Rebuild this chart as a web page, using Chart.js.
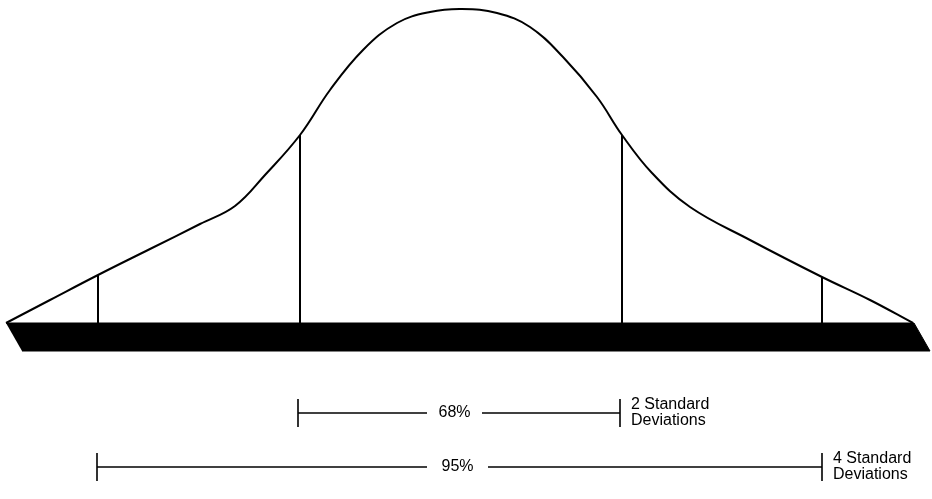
<!DOCTYPE html>
<html>
<head>
<meta charset="utf-8">
<script src="https://cdn.jsdelivr.net/npm/chart.js@4"></script>
<style>
  html, body { margin: 0; padding: 0; background: #fff; }
  #wrap { width: 932px; height: 499px; }
</style>
</head>
<body>
<div id="wrap"><canvas id="grafica" width="932" height="499"></canvas></div>
<script>
// curve: horizontal position, height above the base bar
const curveX = [6, 50, 98, 150, 200, 235, 265, 300, 330, 363, 397, 430, 462, 497, 530, 563, 597, 622, 652, 690, 750, 822, 870, 913];
const curveY = [0, 23, 48, 74, 99, 117, 148, 188, 233, 273, 300, 311, 314, 310, 296, 266, 226, 188, 150, 116, 83, 46, 23, 0];

// vertical lines at 1 and 2 standard deviations
const sdLineX = [98, 300, 622, 822];
const sdLineTop = [48, 188, 188, 46];

// the black base bar (corners)
const barX = [6, 914, 930, 22];
const barY = [0, 0, -28, -28];

// brackets underneath
const bracketLabels = ["68%", "95%"];
const bracketFrom = [298, 97];
const bracketTo = [620, 822];
const bracketLevel = [-90, -144];
const bracketGapFrom = [427, 427];
const bracketGapTo = [482, 488];
const bracketNotes = [["2 Standard", "Deviations"], ["4 Standard", "Deviations"]];

const TICK = 14;
const datasets = [];

// curve
datasets.push({
    data: curveX.map((x, i) => ({ x: x, y: curveY[i] })),
    borderColor: "#000",
    borderWidth: 2,
    tension: 0.4,
    pointRadius: 0,
    fill: false
});

// sd lines
sdLineX.forEach((x, i) => {
    datasets.push({
        data: [{ x: x, y: 0 }, { x: x, y: sdLineTop[i] }],
        borderColor: "#000",
        borderWidth: 2,
        pointRadius: 0,
        fill: false
    });
});

// base bar
datasets.push({
    data: barX.map((x, i) => ({ x: x, y: barY[i] })),
    borderColor: "#000",
    backgroundColor: "#000",
    borderWidth: 1,
    pointRadius: 0,
    tension: 0,
    fill: "shape"
});

// brackets: two horizontal pieces plus end ticks
bracketLabels.forEach((lab, i) => {
    const y = bracketLevel[i];
    const segs = [
        [{ x: bracketFrom[i], y: y }, { x: bracketGapFrom[i], y: y }],
        [{ x: bracketGapTo[i], y: y }, { x: bracketTo[i], y: y }],
        [{ x: bracketFrom[i], y: y + TICK }, { x: bracketFrom[i], y: y - TICK }],
        [{ x: bracketTo[i], y: y + TICK }, { x: bracketTo[i], y: y - TICK }]
    ];
    segs.forEach(s => datasets.push({
        data: s,
        borderColor: "#000",
        borderWidth: 1.6,
        pointRadius: 0,
        fill: false
    }));
});

// labels on the brackets
const bracketText = {
    id: "bracketText",
    afterDatasetsDraw(chart) {
        const c = chart.ctx;
        const xs = chart.scales.x, ys = chart.scales.y;
        c.save();
        c.fillStyle = "#000";
        c.font = "16px 'Liberation Sans', Arial, sans-serif";
        c.textBaseline = "middle";
        bracketLabels.forEach((lab, i) => {
            const py = ys.getPixelForValue(bracketLevel[i]);
            c.textAlign = "center";
            c.fillText(lab, (xs.getPixelForValue(bracketGapFrom[i]) + xs.getPixelForValue(bracketGapTo[i])) / 2, py);
            c.textAlign = "left";
            const nx = xs.getPixelForValue(bracketTo[i]) + 11;
            c.fillText(bracketNotes[i][0], nx, py - 8);
            c.fillText(bracketNotes[i][1], nx, py + 8);
        });
        c.restore();
    }
};

new Chart(document.getElementById("grafica").getContext("2d"), {
    type: "line",
    data: { datasets: datasets },
    options: {
        responsive: false,
        animation: false,
        layout: { padding: 0 },
        plugins: { legend: { display: false }, tooltip: { enabled: false } },
        scales: {
            x: { type: "linear", min: 0, max: 932, display: false },
            y: { type: "linear", min: -176, max: 323, display: false }
        }
    },
    plugins: [bracketText]
});
</script>
</body>
</html>
